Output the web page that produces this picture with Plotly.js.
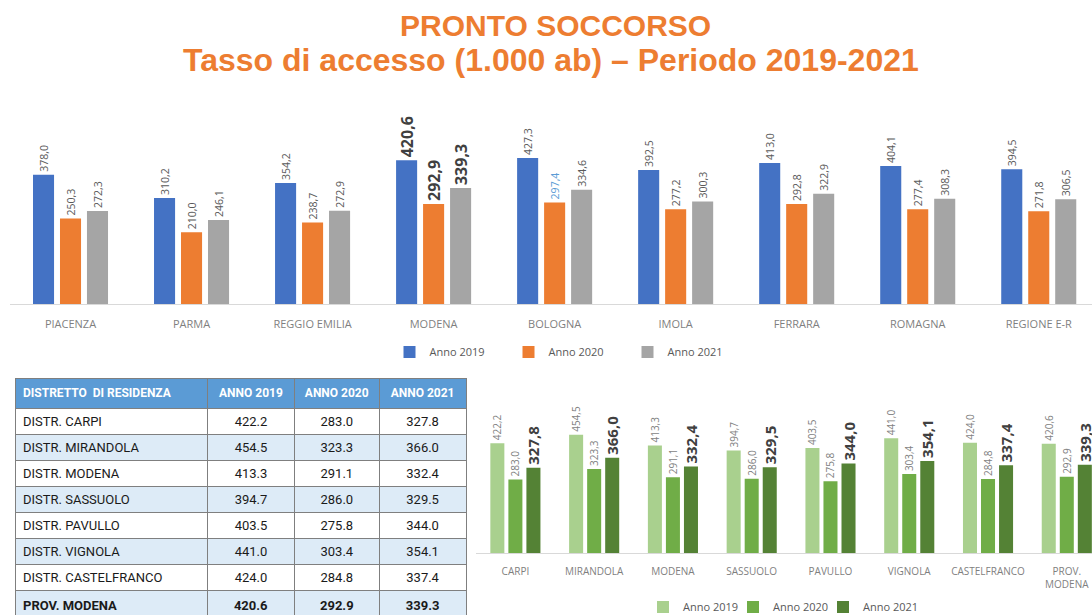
<!DOCTYPE html>
<html>
<head>
<meta charset="utf-8">
<script src="https://cdn.plot.ly/plotly-3.0.1.min.js"></script>
<style>html,body{margin:0;padding:0;background:#fff;}#chart{width:1092px;height:615px;}</style>
</head>
<body>
<div id="chart"></div>
<script>
// ---------- DATA ----------
const regionCats = ['PIACENZA','PARMA','REGGIO EMILIA','MODENA','BOLOGNA','IMOLA','FERRARA','ROMAGNA','REGIONE E-R'];
const region2019 = [378.0, 310.2, 354.2, 420.6, 427.3, 392.5, 413.0, 404.1, 394.5];
const region2020 = [250.3, 210.0, 238.7, 292.9, 297.4, 277.2, 292.8, 277.4, 271.8];
const region2021 = [272.3, 246.1, 272.9, 339.3, 334.6, 300.3, 322.9, 308.3, 306.5];
const highlightRegion = 'MODENA';

const districtCats = ['CARPI','MIRANDOLA','MODENA','SASSUOLO','PAVULLO','VIGNOLA','CASTELFRANCO','PROV.<br>MODENA'];
const district2019 = [422.2, 454.5, 413.3, 394.7, 403.5, 441.0, 424.0, 420.6];
const district2020 = [283.0, 323.3, 291.1, 286.0, 275.8, 303.4, 284.8, 292.9];
const district2021 = [327.8, 366.0, 332.4, 329.5, 344.0, 354.1, 337.4, 339.3];

const tableHeader = ['DISTRETTO  DI RESIDENZA','ANNO 2019','ANNO 2020','ANNO 2021'];
const tableRowNames = ['DISTR. CARPI','DISTR. MIRANDOLA','DISTR. MODENA','DISTR. SASSUOLO','DISTR. PAVULLO','DISTR. VIGNOLA','DISTR. CASTELFRANCO','PROV. MODENA'];

const seriesNames = ['Anno 2019','Anno 2020','Anno 2021'];
const titleLine1 = 'PRONTO SOCCORSO';
const titleLine2 = 'Tasso di accesso (1.000 ab) – Periodo 2019-2021';

// ---------- STYLE ----------
const FONT = 'Open Sans, Noto Sans, sans-serif';
const TFONT = 'Roboto, Noto Sans, sans-serif';
const topColors = ['#4472C4','#ED7D31','#A5A5A5'];
const botColors = ['#A9D08E','#70AD47','#548235'];
const labelGray = '#595959';
const comma = v => v.toFixed(1).replace('.', ',');

const traces = [];
const topSeries = [region2019, region2020, region2021];
const topOffsets = [-0.31, -0.087, 0.136];
topSeries.forEach((vals, s) => {
  const hl = regionCats.map(c => c === highlightRegion);
  traces.push({
    type: 'bar', x: regionCats, y: vals, name: seriesNames[s],
    xaxis: 'x', yaxis: 'y', legend: 'legend',
    marker: {color: topColors[s]},
    width: 0.174, offset: topOffsets[s],
    text: vals.map((v, i) => hl[i] ? '<b>' + comma(v) + '</b>' : comma(v)),
    textposition: 'outside', textangle: -90, cliponaxis: false, constraintext: 'none',
    textfont: {
      family: FONT,
      size: hl.map(h => h ? 16 : 10.5),
      color: vals.map((v, i) => hl[i] ? '#404040' : (s === 1 && regionCats[i] === 'BOLOGNA' ? '#5B9BD5' : labelGray))
    },
    hoverinfo: 'skip'
  });
});

const botSeries = [district2019, district2020, district2021];
const botOffsets = [-0.318, -0.089, 0.14];
botSeries.forEach((vals, s) => {
  const bold = s === 2;
  traces.push({
    type: 'bar', x: districtCats, y: vals, name: seriesNames[s],
    xaxis: 'x2', yaxis: 'y2', legend: 'legend2',
    marker: {color: botColors[s]},
    width: 0.178, offset: botOffsets[s],
    text: vals.map(v => bold ? '<b>' + comma(v) + '</b>' : comma(v)),
    textposition: 'outside', textangle: -90, cliponaxis: false, constraintext: 'none',
    textfont: {family: FONT, size: bold ? 15 : 10, color: bold ? '#404040' : '#7f7f7f'},
    hoverinfo: 'skip'
  });
});
// invisible legend spacer so the last legend label is not clipped
traces.push({
  type: 'bar', x: [null], y: [null], name: ' ', xaxis: 'x2', yaxis: 'y2', legend: 'legend2',
  marker: {color: 'rgba(0,0,0,0)'}, showlegend: true, hoverinfo: 'skip'
});

// table
const fmt = (v, i) => i === tableRowNames.length - 1 ? '<b>' + v.toFixed(1) + '</b>' : v.toFixed(1);
const nameCol = tableRowNames.map((n, i) => i === tableRowNames.length - 1 ? '<b>' + n + '</b>' : n);
const rowFill = tableRowNames.map((n, i) => i % 2 === 0 ? '#FFFFFF' : '#DDEBF7');
traces.push({
  type: 'table',
  domain: {x: [15/1092, 467/1092], y: [0, 1 - 378/615]},
  columnwidth: [193, 87, 85, 87],
  header: {
    values: tableHeader.map(h => '<b>' + h + '</b>'),
    fill: {color: '#5B9BD5'},
    font: {family: TFONT, size: 12, color: '#FFFFFF'},
    align: ['left','center','center','center'],
    line: {color: '#7F7F7F', width: 1},
    height: 27
  },
  cells: {
    values: [nameCol, district2019.map(fmt), district2020.map(fmt), district2021.map(fmt)],
    fill: {color: [rowFill, rowFill, rowFill, rowFill]},
    font: {family: TFONT, size: 13, color: '#1a1a1a'},
    align: ['left','center','center','center'],
    line: {color: '#7F7F7F', width: 1},
    height: 26
  }
});

const hiddenY = {showgrid: false, zeroline: false, showticklabels: false, showline: false, range: [0, 600], fixedrange: true};

const layout = {
  width: 1092, height: 615,
  margin: {l: 0, r: 0, t: 0, b: 0, autoexpand: false},
  paper_bgcolor: '#FFFFFF', plot_bgcolor: 'rgba(0,0,0,0)',
  showlegend: true,
  barmode: 'group',
  font: {family: FONT, color: labelGray},
  xaxis: {
    domain: [10/1092, 1], range: [-0.5, 8.44], type: 'category',
    showline: true, linecolor: '#D9D9D9', linewidth: 1, showgrid: false, ticks: '',
    ticklabelstandoff: 10,
    tickfont: {family: FONT, size: 11, color: '#7F7F7F'}, anchor: 'y', automargin: false
  },
  yaxis: Object.assign({domain: [1 - 304/615, 1 - 99/615], anchor: 'x'}, hiddenY),
  xaxis2: {
    domain: [476/1092, 1], range: [-0.5, 7.32], type: 'category',
    showline: true, linecolor: '#D9D9D9', linewidth: 1, showgrid: false, ticks: '',
    ticklabelstandoff: 9,
    tickfont: {family: FONT, size: 10, color: '#7F7F7F'}, anchor: 'y2', automargin: false
  },
  yaxis2: Object.assign({domain: [1 - 553/615, 1 - 397/615], anchor: 'x2'}, hiddenY),
  legend: {
    orientation: 'h', x: 568/1092, xanchor: 'center', y: 1 - 352/615, yanchor: 'middle',
    entrywidth: 74, entrywidthmode: 'pixels',
    font: {family: FONT, size: 11, color: labelGray}, bgcolor: 'rgba(0,0,0,0)'
  },
  legend2: {
    orientation: 'h', x: 643/1092, xanchor: 'left', y: 1 - 607/615, yanchor: 'middle',
    entrywidth: 45, entrywidthmode: 'pixels',
    font: {family: FONT, size: 11, color: labelGray}, bgcolor: 'rgba(0,0,0,0)'
  },
  annotations: [
    {text: '<b>' + titleLine1 + '</b>', xref: 'paper', yref: 'paper', x: 555/1092, y: 1 - 25/615,
     xanchor: 'center', yanchor: 'middle', showarrow: false,
     font: {family: 'Liberation Sans, Arial, sans-serif', size: 30, color: '#ED7D31'}},
    {text: '<b>' + titleLine2 + '</b>', xref: 'paper', yref: 'paper', x: 551/1092, y: 1 - 60/615,
     xanchor: 'center', yanchor: 'middle', showarrow: false,
     font: {family: 'Liberation Sans, Arial, sans-serif', size: 32, color: '#ED7D31'}}
  ]
};

Plotly.newPlot('chart', traces, layout, {displayModeBar: false, staticPlot: true});
</script>
</body>
</html>
